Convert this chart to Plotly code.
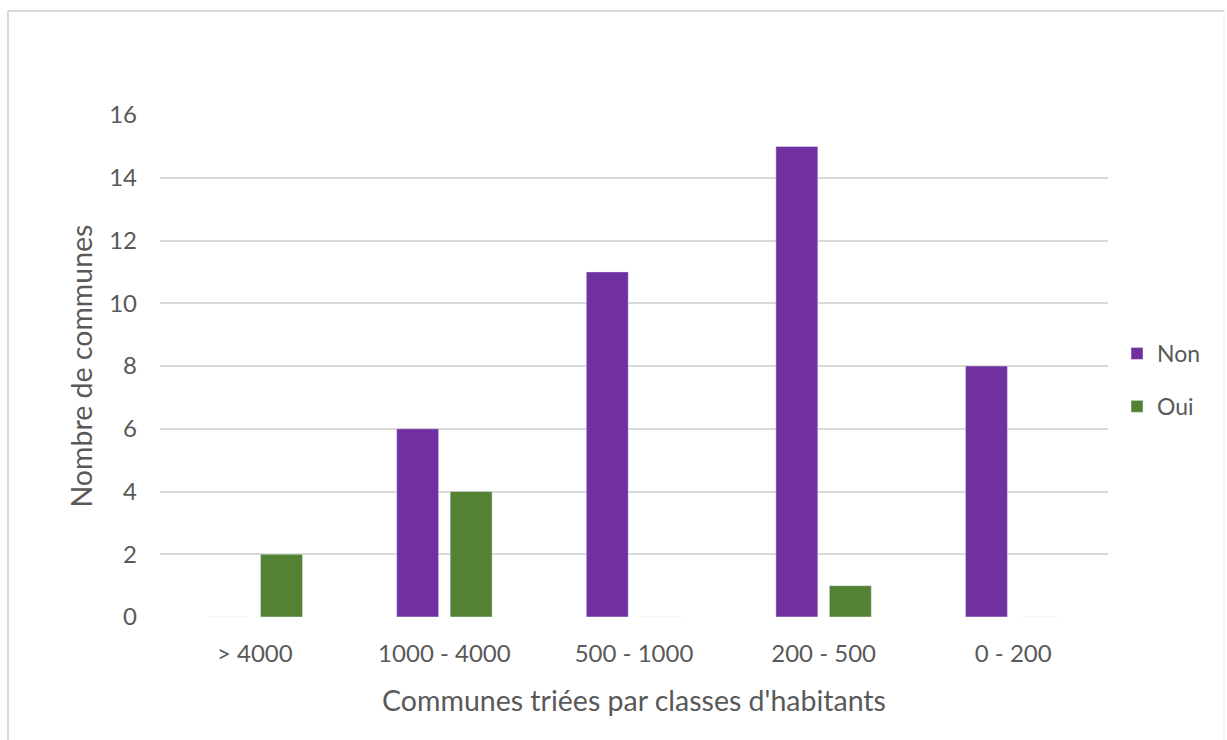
import plotly.graph_objects as go

categories = ["> 4000", "1000 - 4000", "500 - 1000", "200 - 500", "0 - 200"]
non_values = [0, 6, 11, 15, 8]
oui_values = [2, 4, 0, 1, 0]
y_ticks = [0, 2, 4, 6, 8, 10, 12, 14, 16]

W, H = 1227, 740
L, R, T, B = 160, 119, 115, 123

fig = go.Figure()
fig.add_trace(go.Bar(name="Non", x=categories, y=non_values, marker_color="#7030A0", legendgroup="a"))
fig.add_trace(go.Bar(name="Oui", x=categories, y=oui_values, marker_color="#548235", legendgroup="b"))

pw = W - L - R
ph = H - T - B
def px(x):
    return (x - L) / pw
def py(y):
    return (H - B - y) / ph

FONT = "Lato, Open Sans, sans-serif"
fig.update_layout(
    width=W, height=H,
    margin=dict(l=L, r=R, t=T, b=B),
    paper_bgcolor="white", plot_bgcolor="white",
    barmode="group", bargap=0.436, bargroupgap=0.215,
    font=dict(family=FONT, color="#595959", size=24),
    legend=dict(x=px(1117), y=py(380), xanchor="left", yanchor="middle",
                font=dict(size=23, color="#595959"), itemwidth=30, tracegroupgap=20,
                bgcolor="rgba(0,0,0,0)"),
    xaxis=dict(showgrid=False, showline=False, ticks="", tickfont=dict(size=24), ticklabelstandoff=20,
               title=dict(text="Communes triées par classes d'habitants", font=dict(size=28.5), standoff=25)),
    yaxis=dict(range=[0, 16], tickvals=y_ticks, showgrid=True, gridcolor="#d9d9d9", gridwidth=1.5,
               zeroline=False, showline=False, ticks="", ticklabelstandoff=22, tickfont=dict(size=24),
               title=dict(text="Nombre de communes", font=dict(size=28.5), standoff=8)),
    shapes=[
        dict(type="line", xref="paper", yref="paper", x0=px(8), x1=px(1224), y0=py(11), y1=py(11),
             line=dict(color="#d9d9d9", width=2)),
        dict(type="line", xref="paper", yref="paper", x0=px(8), x1=px(8), y0=py(11), y1=py(740),
             line=dict(color="#d9d9d9", width=2)),
        dict(type="line", xref="paper", yref="paper", x0=px(1224), x1=px(1224), y0=py(11), y1=py(740),
             line=dict(color="#eeeeee", width=1)),
    ],
)
fig.write_html("out.html")
